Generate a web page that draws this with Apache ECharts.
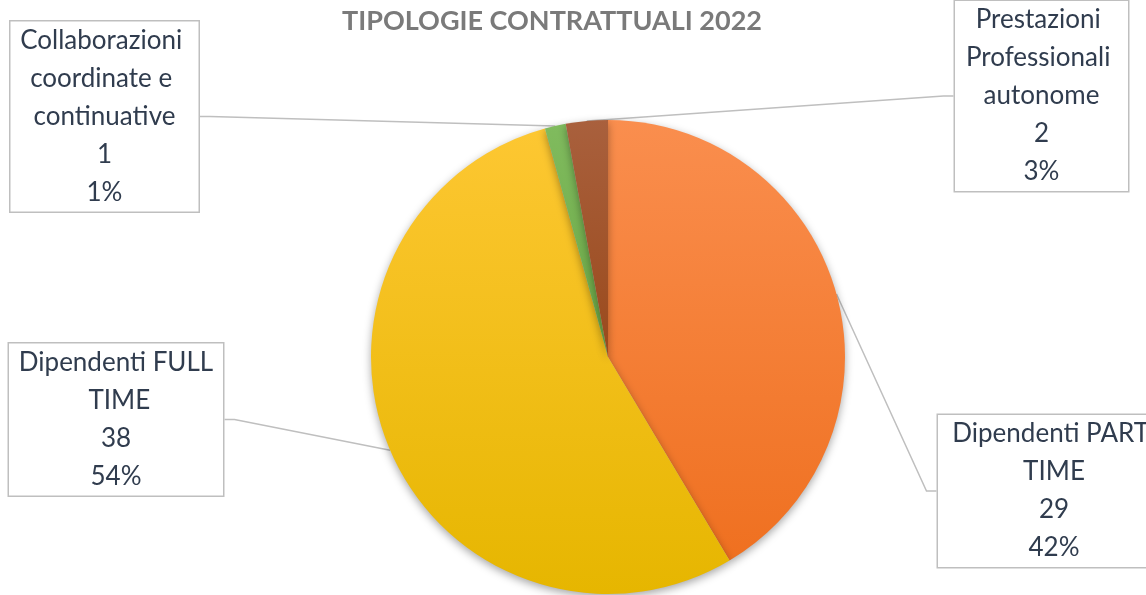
<!DOCTYPE html>
<html>
<head>
<meta charset="utf-8">
<script src="https://cdn.jsdelivr.net/npm/echarts@6/dist/echarts.min.js"></script>
<style>
html,body{margin:0;padding:0;background:#fff;}
#c{width:1146px;height:595px;}
</style>
</head>
<body>
<div id="c"></div>
<script>
// ---- data ----
const TITLE = 'TIPOLOGIE CONTRATTUALI 2022';
const categories = ['Dipendenti PART TIME', 'Dipendenti FULL TIME', 'Collaborazioni coordinate e continuative', 'Prestazioni Professionali autonome'];
const values = [29, 38, 1, 2];
const percentLabels = ['42%', '54%', '1%', '3%'];

// ---- styles ----
const gradients = [
  ['#fa8e4e', '#ef7020'],
  ['#fdc732', '#e6b600'],
  ['#80bb5e', '#6aa744'],
  ['#a9603d', '#9a4a1c']
];
const labelBox = [ // [centerX, centerY, textWidth]
  [1054, 491, 214],
  [116, 419.5, 196],
  [104.5, 116.5, 170],
  [1041.5, 96, 155]
];

const FONT = 'Lato, "Noto Sans", sans-serif';
const chart = echarts.init(document.getElementById('c'));

const data = categories.map((name, i) => ({
  name: name,
  value: values[i],
  itemStyle: {
    color: new echarts.graphic.LinearGradient(0, 0, 0, 1, [
      {offset: 0, color: gradients[i][0]},
      {offset: 1, color: gradients[i][1]}
    ])
  },
  label: { width: labelBox[i][2] }
}));

chart.setOption({
  animation: false,
  title: {
    text: TITLE,
    left: 342,
    top: 8,
    padding: 0,
    textStyle: { fontFamily: FONT, fontWeight: 'bold', fontSize: 27, color: '#7a7a7a' }
  },
  series: [{
    type: 'pie',
    center: [608, 357],
    radius: 237,
    startAngle: 90,
    clockwise: true,
    data: data,
    itemStyle: {
      shadowBlur: 8,
      shadowOffsetY: 3,
      shadowColor: 'rgba(0,0,0,0.35)'
    },
    label: {
      show: true,
      position: 'outside',
      formatter: p => p.name + '\n' + p.value + '\n' + percentLabels[p.dataIndex],
      fontFamily: FONT,
      fontSize: 26,
      lineHeight: 38,
      color: '#303c4e',
      align: 'center',
      overflow: 'break',
      backgroundColor: '#ffffff',
      borderColor: '#bfbfbf',
      borderWidth: 1.5,
      padding: [0, 9]
    },
    labelLine: {
      show: true,
      length: 10,
      length2: 10,
      lineStyle: { color: '#bfbfbf', width: 1.5 }
    },
    labelLayout: function (p) {
      const b = labelBox[p.dataIndex];
      return { x: b[0], y: b[1], align: 'center', verticalAlign: 'middle' };
    },
    emphasis: { disabled: true }
  }]
});
</script>
</body>
</html>
